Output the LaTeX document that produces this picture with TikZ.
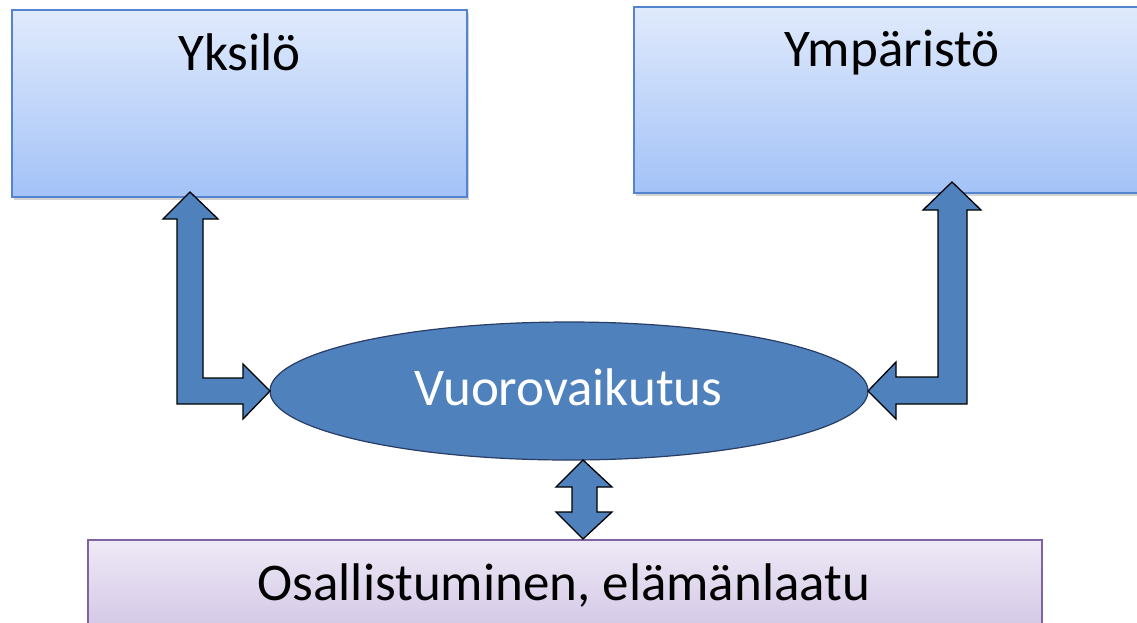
\documentclass[tikz,border=0pt]{standalone}
\usepackage{fontspec}
\setmainfont{Carlito}
\usetikzlibrary{shadows,shapes.geometric,calc}
\definecolor{bluetop}{RGB}{224,234,252}
\definecolor{bluebot}{RGB}{163,194,247}
\definecolor{blueline}{RGB}{84,132,205}
\definecolor{purptop}{RGB}{238,233,246}
\definecolor{purpbot}{RGB}{205,192,226}
\definecolor{purpline}{RGB}{128,100,162}
\definecolor{arrowblue}{RGB}{79,129,189}
\definecolor{ellline}{RGB}{40,60,100}
\tikzset{
  bluebox/.style={rectangle, inner sep=0pt, outer sep=0pt, top color=bluetop, bottom color=bluebot,
    draw=blueline, line width=1.2pt, drop shadow={opacity=0.35, shadow xshift=1.5pt, shadow yshift=-3pt}},
  purpbox/.style={rectangle, inner sep=0pt, outer sep=0pt, top color=purptop, bottom color=purpbot,
    draw=purpline, line width=1.2pt},
  lbl/.style={anchor=base, font=\fontsize{53}{62}\selectfont, text=black, inner sep=0pt},
  blockarrow/.style={fill=arrowblue, draw=black, line width=1.3pt, line join=miter},
  oval/.style={ellipse, fill=arrowblue, draw=ellline, line width=1.2pt, inner sep=0pt, outer sep=0pt}
}
\begin{document}
\begin{tikzpicture}[x=1pt,y=-1pt]
\useasboundingbox (0,0) rectangle (1137,622);
\clip (0,0) rectangle (1137,622);
\node[bluebox, minimum width=455pt, minimum height=187pt] (yks) at (239.5,103.5) {};
\node[lbl] (yksT) at (239.5,70) {Yksilö};
\node[bluebox, minimum width=516pt, minimum height=186pt] (ymp) at (892,100) {};
\node[lbl] (ympT) at (892,66) {Ympäristö};
\node[purpbox, minimum width=954pt, minimum height=110pt] (osa) at (565,595) {};
\node[lbl] (osaT) at (564,600) {Osallistuminen, elämänlaatu};
\node[oval, minimum width=598pt, minimum height=138pt] (vuo) at (569,391) {};
\node[lbl, text=white] (vuoT) at (568.5,405) {Vuorovaikutus};
% left bent arrow (Yksilö <-> Vuorovaikutus)
\draw[blockarrow] (vuo.west) -- ++(-27,-27) -- ++(0,14) -- ++(-40,0) -- ++(0,-159) -- ++(15,0)
  -- ++(-28,-27) -- ++(-27,27) -- ++(14,0) -- ++(0,185) -- ++(66,0) -- ++(0,15) -- cycle;
% right bent arrow (Ympäristö <-> Vuorovaikutus)
\draw[blockarrow] (vuo.east) -- ++(28,-29) -- ++(0,15) -- ++(42,0) -- ++(0,-167) -- ++(-15,0)
  -- ++(29,-28) -- ++(29,28) -- ++(-14,0) -- ++(0,194) -- ++(-71,0) -- ++(0,15) -- cycle;
% double arrow (Vuorovaikutus <-> Osallistuminen)
\draw[blockarrow] ($(vuo.south)+(14,0)$) -- ++(29,27) -- ++(-15,0) -- ++(0,25) -- ++(15,0)
  -- ++(-29,27) -- ++(-27,-27) -- ++(16,0) -- ++(0,-25) -- ++(-16,0) -- cycle;
\end{tikzpicture}
\end{document}
